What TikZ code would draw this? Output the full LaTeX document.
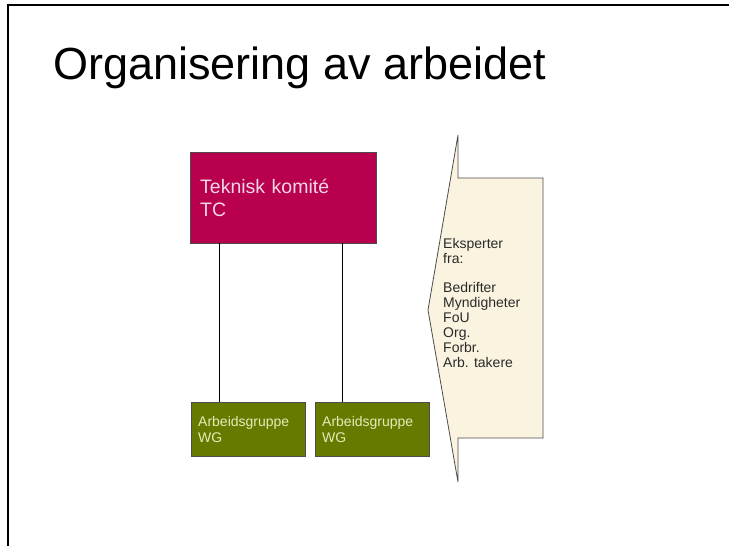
\documentclass[tikz,border=0pt]{standalone}
\usepackage{fontspec}
\setmainfont{Liberation Sans}
\definecolor{tcfill}{HTML}{B8004F}
\definecolor{tctext}{HTML}{F4D6E4}
\definecolor{wgfill}{HTML}{667A00}
\definecolor{wgtext}{HTML}{E4ECB8}
\definecolor{callfill}{HTML}{FAF3E0}
\definecolor{calltext}{HTML}{2A2A2A}
\tikzset{
  frameline/.style={line width=2.5pt, black},
  tcbox/.style={draw=black!70, fill=tcfill, text=tctext, minimum width=186pt, minimum height=91pt,
    text width=166pt, inner xsep=10pt, align=left, anchor=north west,
    font=\fontsize{19.5}{22.5}\selectfont},
  wgbox/.style={draw=black!70, fill=wgfill, text=wgtext, minimum width=114pt, minimum height=54pt,
    text width=100pt, inner xsep=7pt, align=left, anchor=north west,
    font=\fontsize{14}{16}\selectfont},
  conn/.style={draw=black, line width=0.6pt},
  callout/.style={draw=black!70, fill=callfill, line width=0.8pt},
  calltxt/.style={text=calltext, align=left, anchor=north west, inner sep=0pt,
    font=\fontsize{14}{15}\selectfont},
}
\begin{document}
\begin{tikzpicture}[x=1pt,y=-1pt]
\useasboundingbox (0,0) rectangle (729,546);
\fill[white] (0,0) rectangle (729,546);
% frame
\draw[frameline] (729,5) -- (8,5) -- (8,546);
% title
\node[anchor=base west, inner sep=0pt, font=\fontsize{45}{50}\selectfont] (title) at (53,79) {Organisering av arbeidet};
% boxes
\node[tcbox] (tc) at (190,152) {Teknisk komité\\TC};
\node[wgbox] (wg1) at (191,402) {Arbeidsgruppe\\WG};
\node[wgbox] (wg2) at (315,402) {Arbeidsgruppe\\WG};
% connectors
\draw[conn] ([xshift=28pt]wg1.north west) -- ([xshift=28pt]wg1.north west |- tc.south);
\draw[conn] ([xshift=27pt]wg2.north west) -- ([xshift=27pt]wg2.north west |- tc.south);
% callout
\coordinate (ctop) at (458,135);
\coordinate (ctip) at (428,310);
\coordinate (cbot) at (458,482);
\coordinate (crt) at (543,178);
\coordinate (crb) at (543,438);
\draw[callout] (ctop) -- (458,178) -- (crt) -- (crb) -- (458,438) -- (cbot) -- (ctip) -- cycle;
\node[calltxt] (exp) at (443,238) {Eksperter\\fra:\\[14pt]Bedrifter\\Myndigheter\\FoU\\Org.\\Forbr.\\Arb. takere};
\end{tikzpicture}
\end{document}
